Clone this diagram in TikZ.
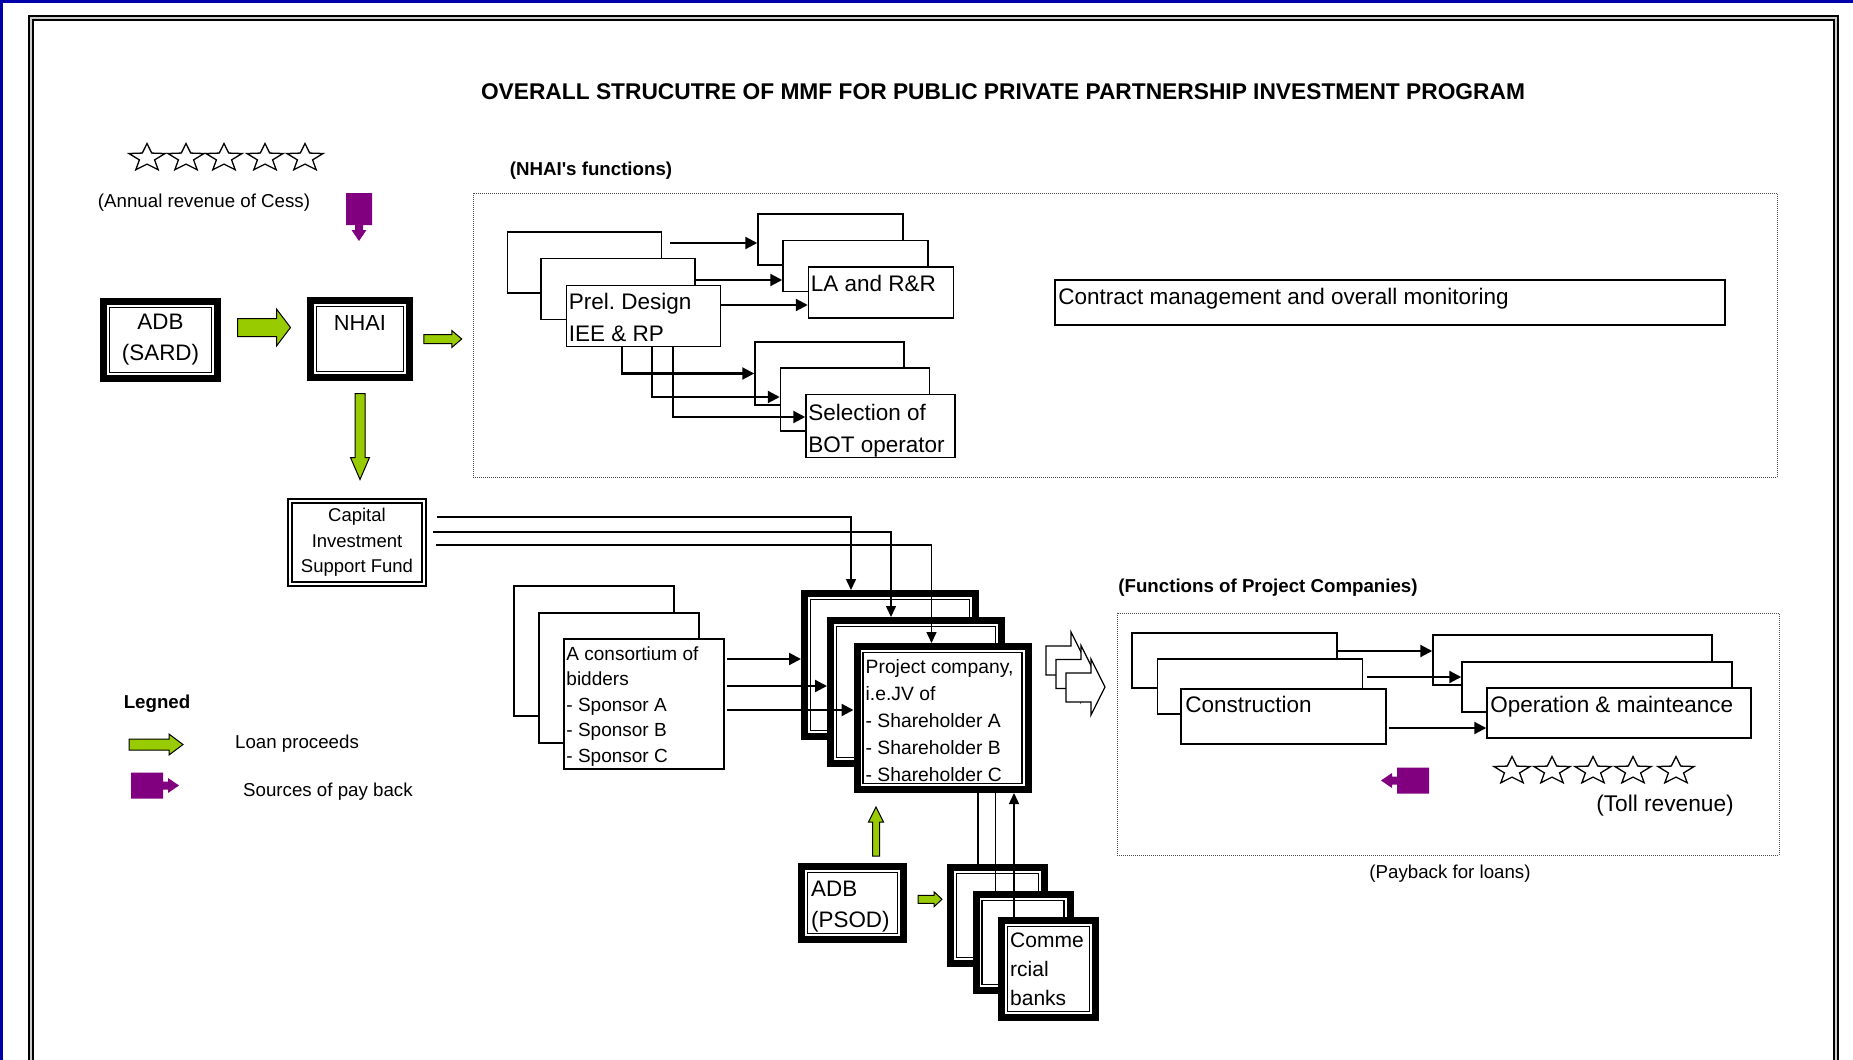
\documentclass[tikz,border=0pt]{standalone}
\usepackage{fontspec}
\setmainfont{Liberation Sans}
\usepackage{xcolor}
\usepackage{tikz}
\usetikzlibrary{arrows.meta, calc}
\frenchspacing

\definecolor{loangreen}{RGB}{153,204,0}
\definecolor{paypurple}{RGB}{128,0,128}
\definecolor{frameblue}{RGB}{0,0,170}

\begin{document}
\begin{tikzpicture}[x=1pt, y=-1pt,
    fnbox/.style={draw, line width=1.5pt, fill=white, inner sep=0pt},
    heavybox/.style={draw, line width=7pt, fill=white, inner sep=0pt,
      path picture={\draw[line width=1.5pt]
        ([shift={(6pt,-6pt)}]path picture bounding box.north west) rectangle
        ([shift={(-6pt,6pt)}]path picture bounding box.south east);}},
    fundbox/.style={draw, double, line width=2pt, double distance=2pt, fill=white, inner sep=0pt},
    region/.style={draw=black!70, densely dotted, line width=1pt, inner sep=0pt},
    boxtext/.style={inner sep=0pt, align=left, font=\fontsize{22.5}{32}\selectfont},
    smalltext/.style={inner sep=0pt, font=\fontsize{18.7}{22}\selectfont},
    headtext/.style={inner sep=0pt, font=\bfseries\fontsize{18.7}{22}\selectfont},
    fnarrow/.style={line width=2.2pt, -{Triangle[length=12pt,width=12pt]}},
    thinarrow/.style={line width=1.5pt, -{Triangle[length=11pt,width=10pt]}},
    thinline/.style={line width=1.5pt},
    pics/loanarrow/.style n args={4}{code={
      \filldraw[fill=loangreen, draw=black, line width=1pt]
        ({-#1/2},{-#2}) -- ({#1/2-#4},{-#2}) -- ({#1/2-#4},{-#3}) -- ({#1/2},0)
        -- ({#1/2-#4},{#3}) -- ({#1/2-#4},{#2}) -- ({-#1/2},{#2}) -- cycle;}},
    pics/payback/.style={code={
      \fill[paypurple] (0,-13) -- (32,-13) -- (32,-4) -- (37,-4) -- (37,-7.5) -- (48,0)
        -- (37,7.5) -- (37,4) -- (32,4) -- (32,13) -- (0,13) -- cycle;}},
    pics/revstar/.style={code={
      \draw[line width=1.3pt, fill=white]
        (270:19 and 14.5) -- (306:8 and 6.1) -- (342:19 and 14.5) -- (18:8 and 6.1)
        -- (54:19 and 14.5) -- (90:8 and 6.1) -- (126:19 and 14.5) -- (162:8 and 6.1)
        -- (198:19 and 14.5) -- (234:8 and 6.1) -- cycle;}}
  ]

% Fondo y marco
\useasboundingbox (0,0) rectangle (1853,1060);
\fill[white] (0,0) rectangle (1853,1060);
\fill[frameblue] (0,0) rectangle (1853,3);
\fill[frameblue] (0,0) rectangle (3,1060);
\draw[double=gray!40, double distance=2.5pt, line width=2pt] (31,1080) -- (31,18) -- (1836,18) -- (1836,1080);

% Titulo
\node[inner sep=0pt, font=\bfseries\fontsize{22.75}{26}\selectfont] (title) at (1003,92)
  {OVERALL STRUCUTRE OF MMF FOR PUBLIC PRIVATE PARTNERSHIP INVESTMENT PROGRAM};

% Ingreso anual del Cess
\foreach \sx in {147,186,224,265,305} \pic at (\sx,158) {revstar};
\node[smalltext] (cess) at (204,203) {(Annual revenue of Cess)};
\pic[rotate=-90] at (359,193) {payback};

% ADB (SARD) y NHAI
\node[heavybox, minimum width=114pt, minimum height=77pt, align=center,
  font=\fontsize{22.4}{31}\selectfont] (adbsard) at (160.5,340) {ADB\\(SARD)};
\node[heavybox, minimum width=99pt, minimum height=77pt] (nhai) at (360,339) {};
\node[boxtext, anchor=north, font=\fontsize{21.8}{30}\selectfont] (nhaitxt) at ($(nhai.north)+(0,18)$) {NHAI};
\pic at ($(adbsard.east)!0.5!(nhai.west)+(0,-12)$) {loanarrow={53}{9}{18.5}{14}};

% Funciones de NHAI
\node[region, minimum width=1304pt, minimum height=284pt] (nhaifn) at (1125,335) {};
\node[headtext] (nhaifnlbl) at (591,171) {(NHAI\textquotesingle s functions)};
\pic at ($(nhai.east)!0.5!(nhai.east -| nhaifn.west)$) {loanarrow={38}{4.5}{8.5}{10}};

\node[fnbox, minimum width=154pt, minimum height=61pt] (prelA) at (584.5,262.5) {};
\node[fnbox, minimum width=154pt, minimum height=61pt] (prelB) at (618,289) {};
\node[fnbox, minimum width=154pt, minimum height=61pt] (prelC) at (643.5,316) {};
\node[boxtext, anchor=north west] (prelCtxt) at ($(prelC.north west)+(3,8)$) {Prel. Design\\IEE \& RP};

\node[fnbox, minimum width=145pt, minimum height=51pt] (laA) at (830.5,239.5) {};
\node[fnbox, minimum width=145pt, minimum height=51pt] (laB) at (855.5,266) {};
\node[fnbox, minimum width=145pt, minimum height=51pt] (laC) at (881,292.5) {};
\node[boxtext, anchor=north west] (laCtxt) at ($(laC.north west)+(3,9)$) {LA and R\&R};

\node[fnbox, minimum width=149pt, minimum height=63pt] (selA) at (829.5,373.5) {};
\node[fnbox, minimum width=149pt, minimum height=63pt] (selB) at (855,399.5) {};
\node[fnbox, minimum width=149pt, minimum height=63pt] (selC) at (880.5,426) {};
\node[boxtext, anchor=north west] (selCtxt) at ($(selC.north west)+(3,10)$) {Selection of\\BOT operator};

\node[fnbox, minimum width=670pt, minimum height=45pt] (contract) at (1390,302.5) {};
\node[boxtext, anchor=north west] (contracttxt) at ($(contract.north west)+(4,9)$)
  {Contract management and overall monitoring};

\draw[fnarrow] ($(prelA.east |- laA.west)+(8,3.5)$) -- ($(laA.west)+(0,3.5)$);
\draw[fnarrow] ($(prelB.east |- laB.west)+(0,14)$) -- ($(laB.west)+(0,14)$);
\draw[fnarrow] ($(prelC.east |- laC.west)+(0,12.5)$) -- ($(laC.west)+(0,12.5)$);
\draw[fnarrow] ($(prelC.south west)+(56,0)$) |- (selA.west);
\draw[fnarrow] ($(prelC.south west)+(86,0)$) |- ($(selB.west)+(0,-2.5)$);
\draw[fnarrow] ($(prelC.south west)+(107,0)$) |- ($(selC.west)+(0,-9)$);

% Fondo de apoyo a la inversion
\node[fundbox, minimum width=134pt, minimum height=83pt, align=center,
  font=\fontsize{18.5}{25.5}\selectfont] (capital) at (357,542.5) {Capital\\Investment\\Support Fund};
\pic[rotate=-90] at ($(nhai.south)!0.5!(nhai.south |- capital.north)+(0,-4)$) {loanarrow={86}{5}{9.5}{22}};

% Consorcio y empresa del proyecto
\node[fnbox, minimum width=160pt, minimum height=130pt] (consA) at (594,651) {};
\node[fnbox, minimum width=160pt, minimum height=130pt] (consB) at (619,678) {};
\node[fnbox, minimum width=160pt, minimum height=130pt] (consC) at (644,704) {};
\node[boxtext, anchor=north west, font=\fontsize{19}{25.5}\selectfont] (consCtxt) at ($(consC.north west)+(3,8)$)
  {A consortium of\\bidders\\- Sponsor A\\- Sponsor B\\- Sponsor C};

\node[heavybox, minimum width=171pt, minimum height=143pt] (pcA) at (890,665) {};
\node[heavybox, minimum width=171pt, minimum height=143pt] (pcB) at (916,692) {};
\node[heavybox, minimum width=171pt, minimum height=143pt] (pcC) at (942.5,718) {};
\node[boxtext, anchor=north west, font=\fontsize{19.3}{27}\selectfont] (pcCtxt) at ($(pcC.north west)+(12,16)$)
  {Project company,\\i.e.JV of\\- Shareholder A\\- Shareholder B\\- Shareholder C};

\draw[thinarrow] ($(capital.east)+(12,-25.5)$) -| ($(pcA.north west)+(50,0)$);
\draw[thinarrow] ($(capital.east)+(8,-10.5)$) -| ($(pcB.north west)+(64,0)$);
\draw[thinarrow] ($(capital.east)+(11,2.5)$) -| ($(pcC.north west)+(78,0)$);

\draw[fnarrow] ($(consC.east |- pcA.west)+(2,-6)$) -- ($(pcA.west)+(0,-6)$);
\draw[fnarrow] ($(consC.east |- pcB.west)+(2,-6)$) -- ($(pcB.west)+(0,-6)$);
\draw[fnarrow] ($(consC.east |- pcC.west)+(2,-8)$) -- ($(pcC.west)+(0,-8)$);

\foreach \d in {0,1,2}
  \filldraw[fill=white, line width=1.3pt, shift={(10*\d,13.5*\d)}]
    (1046,646) -- (1071,646) -- (1071,632) -- (1085,660) -- (1071,688) -- (1071,675) -- (1046,675) -- cycle;

% Funciones de las empresas del proyecto
\node[region, minimum width=662pt, minimum height=242pt] (pcfn) at (1448,734) {};
\node[headtext] (pcfnlbl) at (1268,588) {(Functions of Project Companies)};

\node[fnbox, minimum width=205pt, minimum height=55pt] (conA) at (1234.5,660.5) {};
\node[fnbox, minimum width=205pt, minimum height=55pt] (conB) at (1260,686.5) {};
\node[fnbox, minimum width=205pt, minimum height=55pt] (conC) at (1283.5,716.5) {};
\node[boxtext, anchor=north west] (conCtxt) at ($(conC.north west)+(5,8)$) {Construction};

\node[fnbox, minimum width=279pt, minimum height=50pt] (opA) at (1572.5,660) {};
\node[fnbox, minimum width=270pt, minimum height=50pt] (opB) at (1597,687) {};
\node[fnbox, minimum width=264pt, minimum height=50pt] (opC) at (1619,713) {};
\node[boxtext, anchor=north west] (opCtxt) at ($(opC.north west)+(4,9)$) {Operation \& mainteance};

\draw[fnarrow] ($(conA.east |- opA.west)+(0,-9)$) -- ($(opA.west)+(0,-9)$);
\draw[fnarrow] ($(conB.east |- opB.west)+(4,-10)$) -- ($(opB.west)+(0,-10)$);
\draw[fnarrow] ($(conC.east |- opC.west)+(2,15)$) -- ($(opC.west)+(0,15)$);

\foreach \sx in {1512,1552,1593,1633,1676} \pic at (\sx,771) {revstar};
\node[smalltext, font=\fontsize{22.7}{26}\selectfont] (toll) at (1665,806) {(Toll revenue)};
\pic[rotate=180] at (1429,780.5) {payback};
\node[smalltext] (paybacklbl) at (1450,874) {(Payback for loans)};

% ADB (PSOD) y bancos comerciales
\node[heavybox, minimum width=102pt, minimum height=73pt] (psod) at (852.5,903) {};
\node[boxtext, anchor=north west, font=\fontsize{22.4}{31}\selectfont] (psodtxt) at ($(psod.north west)+(13,18)$) {ADB\\(PSOD)};
\pic[rotate=90] at ($(psod.north)!0.5!(psod.north |- pcC.south)+(23.5,3.5)$) {loanarrow={49}{3.5}{7.5}{15}};

\node[heavybox, minimum width=94pt, minimum height=96pt] (bankA) at (997.5,915.5) {};
\node[heavybox, minimum width=94pt, minimum height=96pt] (bankB) at (1023,942.5) {};
\node[heavybox, minimum width=94pt, minimum height=97pt] (bankC) at (1048.5,969) {};
\node[boxtext, anchor=north west, font=\fontsize{21}{29}\selectfont] (bankCtxt) at ($(bankC.north west)+(12,16)$)
  {Comme\\rcial\\banks};
\pic at ($(psod.east)!0.5!(bankA.west)+(3,-10)$) {loanarrow={24}{4}{7.5}{8}};

\coordinate (bankline1) at ($(bankA.north west)+(31,0)$);
\coordinate (bankline2) at ($(bankB.north west)+(23,0)$);
\coordinate (bankline3) at ($(bankC.north west)+(16,0)$);
\draw[thinline] (bankline1) -- (bankline1 |- pcC.south);
\draw[thinline] (bankline2) -- (bankline2 |- pcC.south);
\draw[thinarrow] (bankline3) -- (bankline3 |- pcC.south);

% Leyenda
\node[headtext] (legend) at (157,704) {Legned};
\pic at (156,744.5) {loanarrow={54}{5.5}{10.5}{14}};
\node[smalltext, anchor=west] (loanlbl) at (235,744) {Loan proceeds};
\pic at (131,785.5) {payback};
\node[smalltext, anchor=west] (paylbl) at (243,792) {Sources of pay back};

\end{tikzpicture}
\end{document}
